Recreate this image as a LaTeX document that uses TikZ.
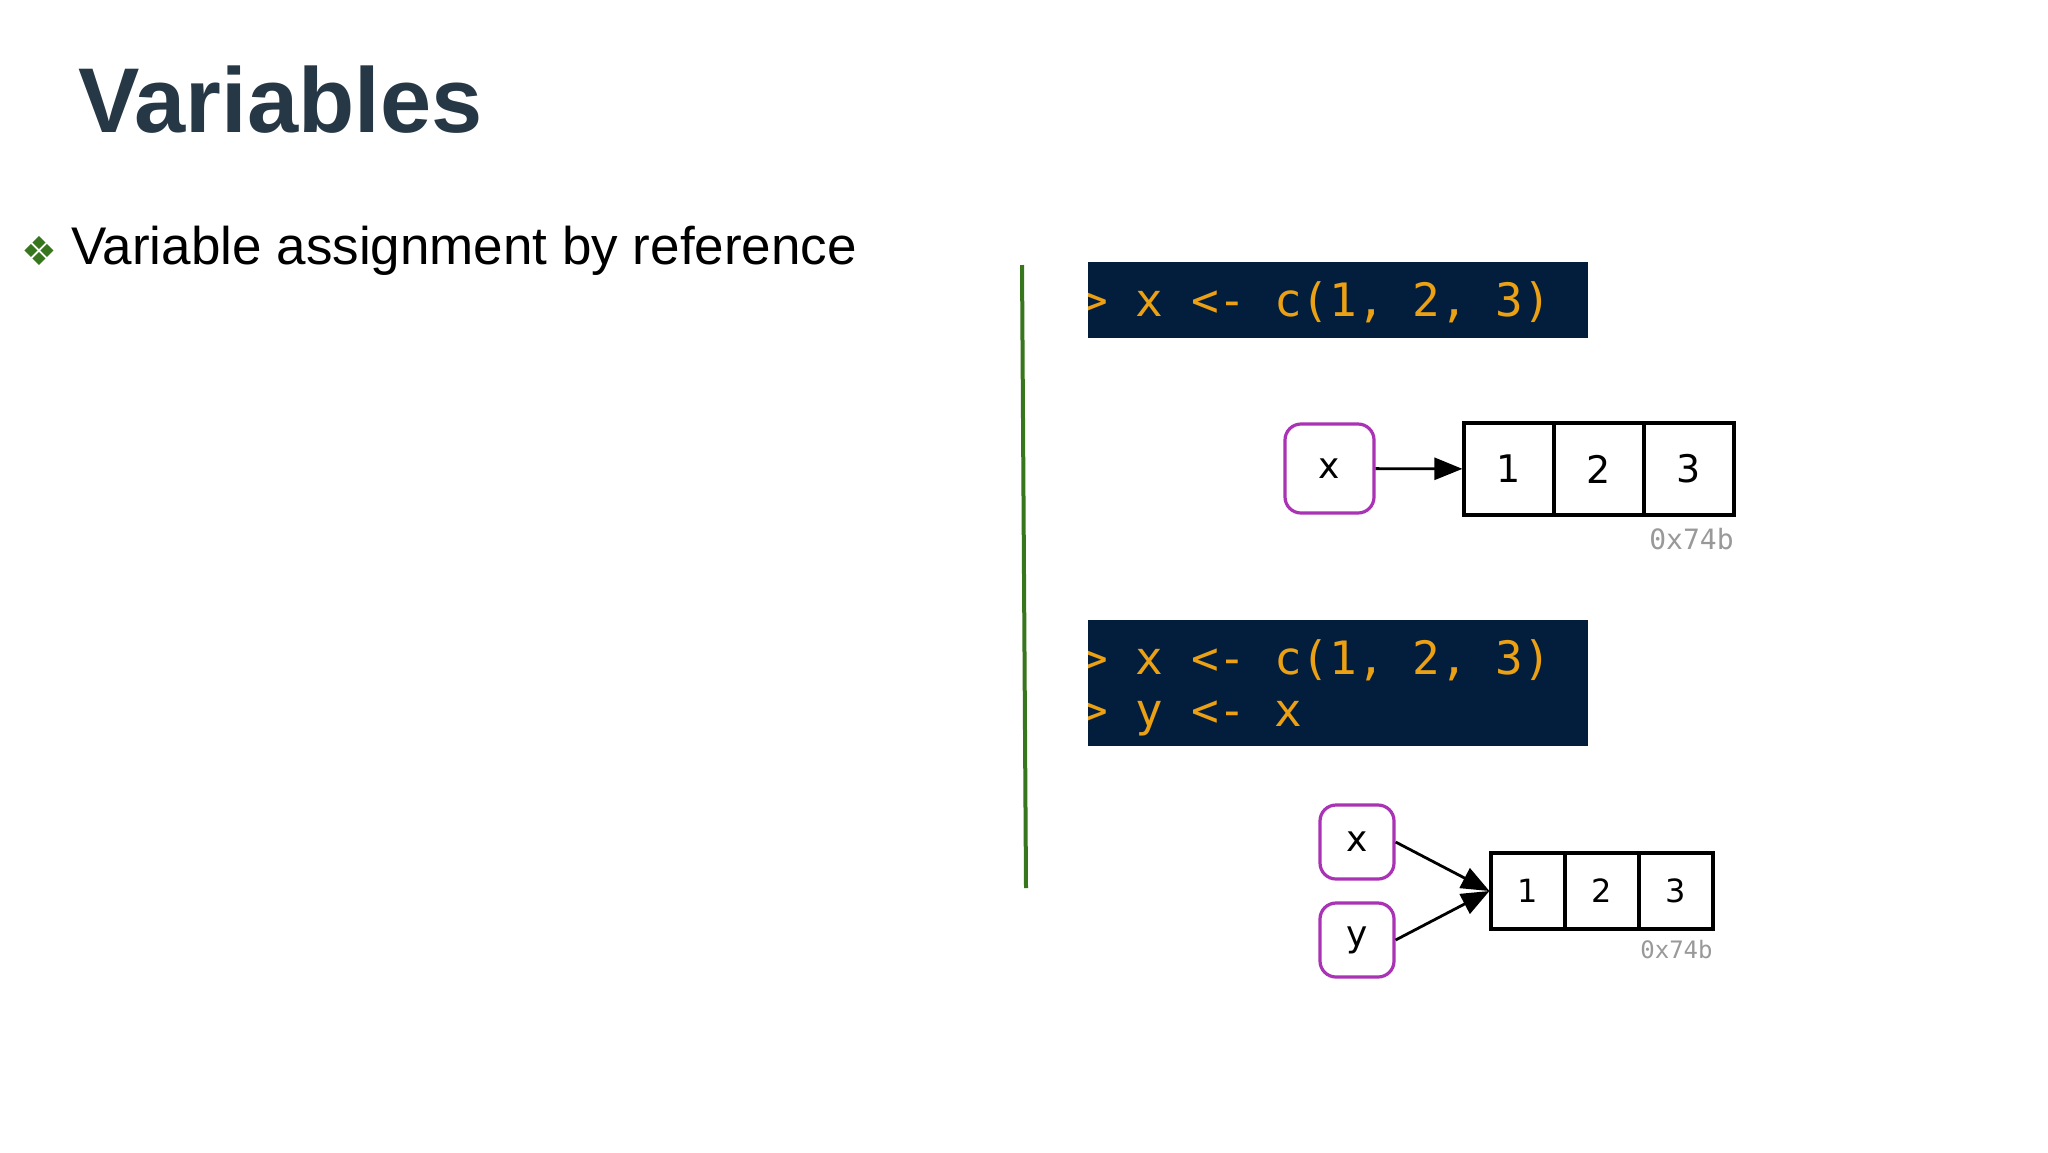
\documentclass[tikz,border=0pt]{standalone}
\usepackage{fontspec}
\setmainfont{Liberation Sans}
\newfontfamily\dvs{DejaVu Sans}
\newfontfamily\dvm{DejaVu Sans Mono}
\usetikzlibrary{arrows.meta}
\definecolor{titlec}{RGB}{38,56,69}
\definecolor{greenc}{RGB}{56,118,29}
\definecolor{codebg}{RGB}{2,30,60}
\definecolor{codefg}{RGB}{236,160,20}
\definecolor{purp}{RGB}{170,50,180}
\begin{document}
\begin{tikzpicture}[x=0.5pt,y=-0.5pt,
  var/.style={draw=purp,line width=1.6pt,rounded corners=8pt,fill=white,inner sep=0pt,font=\dvs\fontsize{18}{20}\selectfont},
  cell/.style={draw=black,line width=1.6pt,inner sep=0pt,font=\dvs\fontsize{19}{20}\selectfont},
  addr/.style={anchor=north east,text=gray!80,inner sep=0pt,font=\dvm\fontsize{14}{16}\selectfont},
  code/.style={anchor=west,inner sep=0pt,text=codefg,font=\dvm\fontsize{23}{25}\selectfont},
  arr/.style={-{Triangle[length=14pt,width=11pt]},line width=1.4pt}]
\useasboundingbox (0,0) rectangle (2048,1152);
\fill[white] (0,0) rectangle (2048,1152);
\node[anchor=west,text=titlec,font=\bfseries\fontsize{46}{50}\selectfont,inner sep=0pt] (title) at (78,100) {Variables};
\node[text=greenc,font=\dvs\fontsize{20}{20}\selectfont,inner sep=0pt] (bul) at (39,251) {❖};
\node[anchor=west,font=\fontsize{26.5}{30}\selectfont,inner sep=0pt] (btxt) at (71,251) {Variable assignment by reference};
\coordinate (gt) at (1022,265); \coordinate (gb) at (1026,888);
\draw[greenc,line width=2pt] (gt) -- (gb);
% code box 1
\begin{scope}
\clip (1088,262) rectangle (1588,338);
\fill[codebg] (1088,262) rectangle (1588,338);
\node[code] (c1) at (1080,302) {> x <- c(1, 2, 3)};
\end{scope}
\begin{scope}
\clip (1088,620) rectangle (1588,746);
\fill[codebg] (1088,620) rectangle (1588,746);
\node[code] (c2) at (1080,660) {> x <- c(1, 2, 3)};
\node[code] (c3) at (1080,718) {> y <- x};
\end{scope}
% diagram 1
\node[var,minimum width=44.5pt,minimum height=44.5pt] (x1) at (1329.5,468.5) {x};
\node[cell,minimum width=45pt,minimum height=46pt] (a1) at (1509,469) {1};
\node[cell,minimum width=45pt,minimum height=46pt] (a2) at (1599,469) {2};
\node[cell,minimum width=45pt,minimum height=46pt] (a3) at (1689,469) {3};
\node[addr] (ad1) at (1734,528) {0x74b};
\draw[arr] (x1) -- (a1);
% diagram 2
\node[var,minimum width=37pt,minimum height=37pt] (x2) at (1357,842) {x};
\node[var,minimum width=37pt,minimum height=37pt] (y2) at (1357,940) {y};
\node[cell,minimum width=37pt,minimum height=38pt,font=\dvs\fontsize{16}{18}\selectfont] (b1) at (1528,891) {1};
\node[cell,minimum width=37pt,minimum height=38pt,font=\dvs\fontsize{16}{18}\selectfont] (b2) at (1602,891) {2};
\node[cell,minimum width=37pt,minimum height=38pt,font=\dvs\fontsize{16}{18}\selectfont] (b3) at (1676,891) {3};
\node[addr,font=\dvm\fontsize{12}{14}\selectfont] (ad2) at (1713,940) {0x74b};
\draw[arr] (x2.east) -- (b1.west);
\draw[arr] (y2.east) -- (b1.west);
\end{tikzpicture}
\end{document}
